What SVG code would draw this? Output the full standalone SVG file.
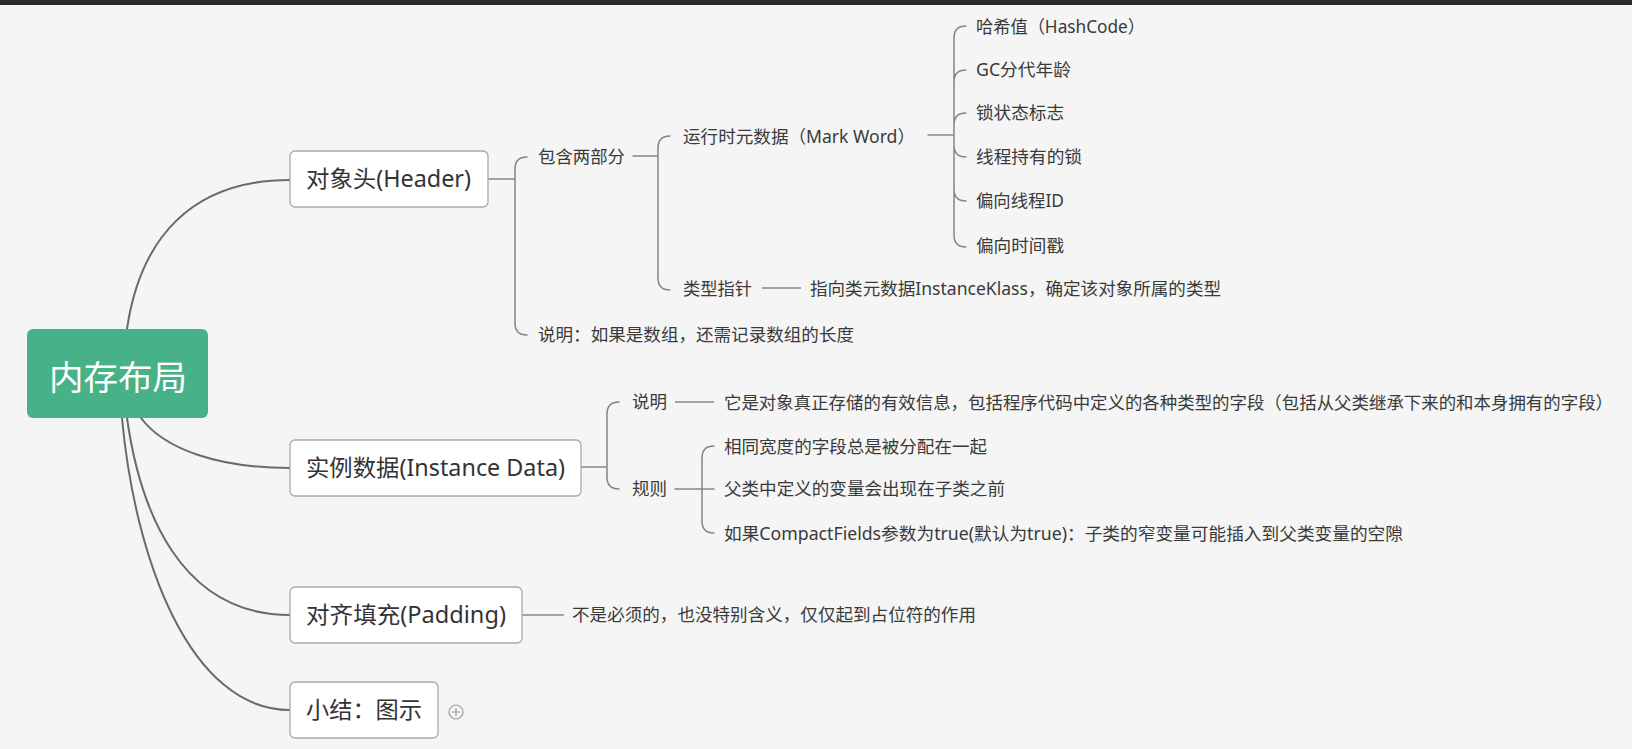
<svg xmlns="http://www.w3.org/2000/svg" width="1632" height="749" viewBox="0 0 1632 749">
<style>
.bg{fill:#f4f5f4}
.main{fill:none;stroke:#6a6a6a;stroke-width:2;stroke-linecap:round}
.br{fill:none;stroke:#858585;stroke-width:1.5;stroke-linecap:round}
.ln{fill:none;stroke:#8a8a8a;stroke-width:1.3}
.box{fill:#ffffff;stroke:#a9a9a9;stroke-width:1.3}
.t{font-family:"Noto Sans","Noto Sans CJK SC",sans-serif;font-size:17.5px;fill:#3a3a3a}
.nt{font-family:"Noto Sans","Noto Sans CJK SC",sans-serif;font-size:23px;fill:#333333}
.rt{font-family:"Noto Sans CJK SC",sans-serif;font-size:34px;fill:#ffffff}
</style>
<rect class="bg" x="0" y="0" width="1632" height="749"/>
<rect x="0" y="0" width="1632" height="5" fill="#2b2b2b"/>

<g id="connectors">
  <path class="main" d="M127,329 C140,240 190,180 290,180"/>
  <path class="main" d="M141,418 C165,450 220,468 290,468"/>
  <path class="main" d="M127,418 C140,510 180,615 290,615"/>
  <path class="main" d="M122,418 C135,560 190,710 290,710"/>
  <!-- header brace -->
  <path class="br" d="M488,179 H515 M527,157 Q515,157 515,169 V323 Q515,335 527,335"/>
  <!-- 包含两部分 brace -->
  <path class="br" d="M633,156 H658 M670,136 Q658,136 658,148 V278 Q658,290 670,290"/>
  <!-- mark word brace -->
  <path class="br" d="M928,135 H954 M966,26 Q954,26 954,38 V235 Q954,247 966,247 M966,70 Q954,70 954,82 M966,113 Q954,113 954,125 M966,157 Q954,157 954,145 M966,201 Q954,201 954,189"/>
  <path class="ln" d="M762,288 H801"/>
  <!-- instance brace -->
  <path class="br" d="M581,467 H607 M619,402 Q607,402 607,414 V477 Q607,489 619,489"/>
  <path class="ln" d="M675,402 H714"/>
  <path class="br" d="M675,489 H714 M714,446 Q702,446 702,458 V521 Q702,533 714,533"/>
  <path class="ln" d="M522,615 H564"/>
</g>

<g id="root">
  <rect x="27" y="329" width="181" height="89" rx="6" fill="#47b188"/>
  <text class="rt" x="49" y="390" textLength="138" lengthAdjust="spacingAndGlyphs">内存布局</text>
</g>

<g id="node-header">
  <rect class="box" x="290" y="151" width="198" height="56" rx="5"/>
  <text class="nt" x="306" y="187" textLength="165" lengthAdjust="spacingAndGlyphs">对象头(Header)</text>
</g>
<g id="node-instance">
  <rect class="box" x="290" y="440" width="291" height="56" rx="5"/>
  <text class="nt" x="306" y="476" textLength="259" lengthAdjust="spacingAndGlyphs">实例数据(Instance Data)</text>
</g>
<g id="node-padding">
  <rect class="box" x="290" y="587" width="232" height="56" rx="5"/>
  <text class="nt" x="306" y="623" textLength="200" lengthAdjust="spacingAndGlyphs">对齐填充(Padding)</text>
</g>
<g id="node-summary">
  <rect class="box" x="290" y="682" width="148" height="56" rx="5"/>
  <text class="nt" x="306" y="718" textLength="116" lengthAdjust="spacingAndGlyphs">小结：图示</text>
  <circle cx="456" cy="712" r="7" fill="none" stroke="#9a9a9a" stroke-width="1.2"/>
  <path d="M452,712 H460 M456,708 V716" stroke="#9a9a9a" stroke-width="1.2"/>
</g>

<g id="header-children">
  <g id="n-baohan"><text class="t" x="538" y="163" textLength="87" lengthAdjust="spacingAndGlyphs">包含两部分</text></g>
  <g id="n-shuoming1"><text class="t" x="538" y="341" textLength="316" lengthAdjust="spacingAndGlyphs">说明：如果是数组，还需记录数组的长度</text></g>
  <g id="n-markword"><text class="t" x="683" y="143" textLength="232" lengthAdjust="spacingAndGlyphs">运行时元数据（Mark Word）</text></g>
  <g id="n-leixing"><text class="t" x="683" y="295" textLength="69" lengthAdjust="spacingAndGlyphs">类型指针</text></g>
  <g id="n-zhixiang"><text class="t" x="810" y="295" textLength="411" lengthAdjust="spacingAndGlyphs">指向类元数据InstanceKlass，确定该对象所属的类型</text></g>
  <g id="n-hash"><text class="t" x="976" y="33" textLength="169" lengthAdjust="spacingAndGlyphs">哈希值（HashCode）</text></g>
  <g id="n-gc"><text class="t" x="976" y="76" textLength="95" lengthAdjust="spacingAndGlyphs">GC分代年龄</text></g>
  <g id="n-suo"><text class="t" x="976" y="119" textLength="88" lengthAdjust="spacingAndGlyphs">锁状态标志</text></g>
  <g id="n-xiancheng"><text class="t" x="976" y="163" textLength="106" lengthAdjust="spacingAndGlyphs">线程持有的锁</text></g>
  <g id="n-pianxiang"><text class="t" x="976" y="207" textLength="88" lengthAdjust="spacingAndGlyphs">偏向线程ID</text></g>
  <g id="n-shijian"><text class="t" x="976" y="252" textLength="88" lengthAdjust="spacingAndGlyphs">偏向时间戳</text></g>
</g>

<g id="instance-children">
  <g id="n-shuoming2"><text class="t" x="632" y="408" textLength="35" lengthAdjust="spacingAndGlyphs">说明</text></g>
  <g id="n-tashi"><text class="t" x="724" y="409" textLength="889" lengthAdjust="spacingAndGlyphs">它是对象真正存储的有效信息，包括程序代码中定义的各种类型的字段（包括从父类继承下来的和本身拥有的字段）</text></g>
  <g id="n-guize"><text class="t" x="632" y="495" textLength="35" lengthAdjust="spacingAndGlyphs">规则</text></g>
  <g id="n-r1"><text class="t" x="724" y="453" textLength="263" lengthAdjust="spacingAndGlyphs">相同宽度的字段总是被分配在一起</text></g>
  <g id="n-r2"><text class="t" x="724" y="495" textLength="281" lengthAdjust="spacingAndGlyphs">父类中定义的变量会出现在子类之前</text></g>
  <g id="n-r3"><text class="t" x="724" y="540" textLength="679" lengthAdjust="spacingAndGlyphs">如果CompactFields参数为true(默认为true)：子类的窄变量可能插入到父类变量的空隙</text></g>
</g>

<g id="padding-children">
  <g id="n-bushi"><text class="t" x="572" y="621" textLength="404" lengthAdjust="spacingAndGlyphs">不是必须的，也没特别含义，仅仅起到占位符的作用</text></g>
</g>
</svg>
